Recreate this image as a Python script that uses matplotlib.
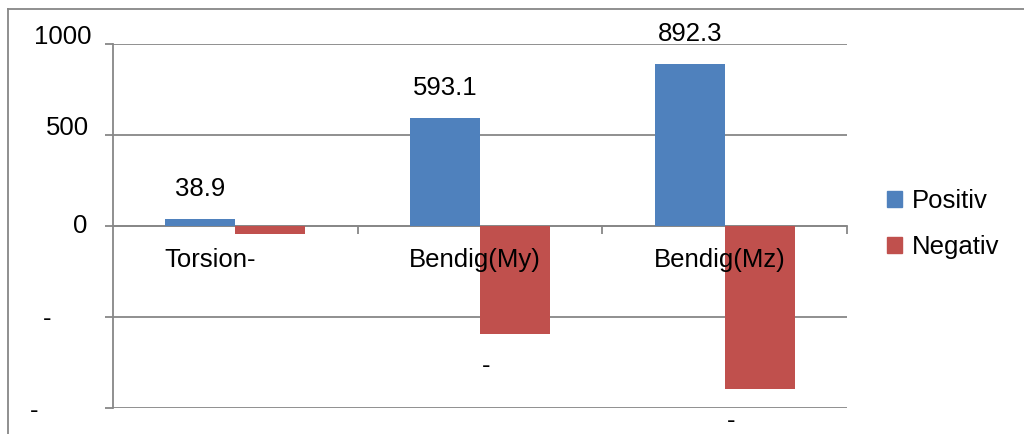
import numpy as np
import matplotlib
matplotlib.use("Agg")
import matplotlib.pyplot as plt
from matplotlib.patches import Patch
from matplotlib.lines import Line2D

plt.rcParams['font.family'] = ['Liberation Sans', 'DejaVu Sans']

# data
categories = ['Torsion-', 'Bendig(My)', 'Bendig(Mz)']
positiv = [38.9, 593.1, 892.3]
negativ = [-44, -596, -893]
pos_labels = ['38.9', '593.1', '892.3']
neg_labels = ['', '-', '-']
yticks = [1000, 500, 0, -500, -1000]
ytick_labels = ['1000', '500', '0', '-', '-']

blue = '#4F81BD'
red = '#C0504D'
grid = '#878787'
fs = 18.5

fig = plt.figure(figsize=(10.24, 4.34), dpi=100)
W, H = 1024, 434
ax = fig.add_axes([113 / W, 1 - 408 / H, (847 - 113) / W, (408 - 44) / H])

x = np.arange(len(categories))
w = 0.286
ax.bar(x - w / 2, positiv, w, color=blue, zorder=3)
ax.bar(x + w / 2, negativ, w, color=red, zorder=3)

ax.set_xlim(-0.5, 2.5)
ax.set_ylim(-1000, 1000)

# gridlines + axes
ax.set_yticks(yticks)
ax.set_yticklabels([])
ax.yaxis.grid(True, color=grid, linewidth=1.3, zorder=1)
ax.tick_params(axis='y', length=6, width=1.3, color=grid, direction='out')
for s in ['top', 'right']:
    ax.spines[s].set_visible(False)
ax.spines['left'].set_color(grid)
ax.spines['left'].set_linewidth(1.3)
ax.spines['bottom'].set_position(('data', 0))
ax.spines['bottom'].set_color(grid)
ax.spines['bottom'].set_linewidth(1.3)
ax.set_xticks([0.5, 1.5, 2.5])
ax.set_xticklabels([])
ax.tick_params(axis='x', length=6, width=1.3, color=grid, direction='out')

# y tick labels (placed by hand, as in the original)
ylab_dx = [-21, -24, -26, -66, -79]
ylab_dy = [7, 7, 0, -2, -3]
ylab_ha = ['right', 'right', 'right', 'center', 'center']
for v, t, dx, dy, ha in zip(yticks, ytick_labels, ylab_dx, ylab_dy, ylab_ha):
    ax.annotate(t, (0, v), xycoords=('axes fraction', 'data'),
                xytext=(dx, dy), textcoords='offset pixels',
                ha=ha, va='center', fontsize=fs, annotation_clip=False)

# category labels
for xi, c in zip(x, categories):
    ax.annotate(c, (xi - 0.29, 0), xytext=(0, -34), textcoords='offset pixels',
                ha='left', va='center', fontsize=fs, zorder=5)

# data labels
for xi, v, t in zip(x, positiv, pos_labels):
    ax.annotate(t, (xi - w / 2, v), xytext=(0, 30), textcoords='offset pixels',
                ha='center', va='center', fontsize=fs, zorder=5)
for xi, v, t in zip(x, negativ, neg_labels):
    if t:
        ax.annotate(t, (xi, v), xytext=(2, -32), textcoords='offset pixels',
                    ha='left', va='center', fontsize=fs, zorder=5,
                    annotation_clip=False)

# legend
handles = [Patch(color=blue, label='Positiv'), Patch(color=red, label='Negativ')]
fig.legend(handles=handles, loc='center left', bbox_to_anchor=(887 / W, 1 - 224 / H),
           frameon=False, fontsize=fs, handlelength=0.6, handleheight=0.6,
           handletextpad=0.35, labelspacing=0.85, borderpad=0, borderaxespad=0)

# outer chart border (top and left visible)
fig.add_artist(Line2D([8 / W, 1], [1 - 9 / H, 1 - 9 / H], color=grid, lw=1.3))
fig.add_artist(Line2D([8 / W, 8 / W], [0, 1 - 9 / H], color=grid, lw=1.3))

fig.savefig('out.png', dpi=100)
